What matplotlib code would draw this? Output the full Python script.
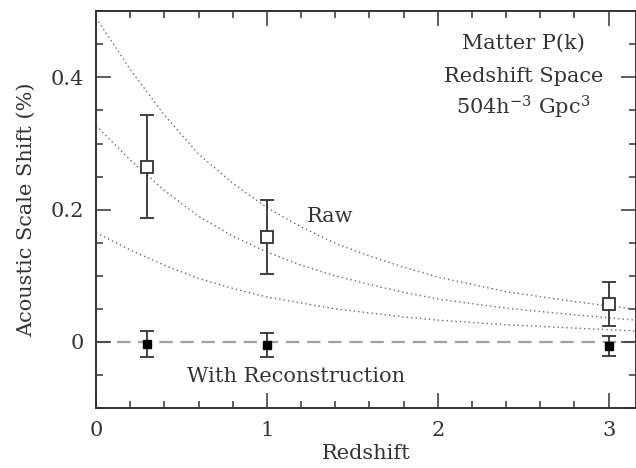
import numpy as np
import matplotlib
matplotlib.use("Agg")
import matplotlib.pyplot as plt
from matplotlib.ticker import MultipleLocator

# --- data ---
# measured acoustic scale shift (%) at each redshift
redshift = [0.3, 1.0, 3.0]
raw_shift = [0.265, 0.158, 0.057]
raw_err = [0.078, 0.056, 0.033]
recon_shift = [-0.003, -0.004, -0.006]
recon_err = [0.019, 0.018, 0.015]

# dotted reference curves
curve_z = [0.0, 0.2, 0.4, 0.6, 0.8, 1.0, 1.2, 1.4, 1.6, 1.8, 2.0, 2.4, 2.8, 3.2]
curve_high = [0.490, 0.412, 0.343, 0.284, 0.240, 0.203, 0.174, 0.149, 0.130,
              0.113, 0.098, 0.076, 0.061, 0.048]
curve_mid = [0.327, 0.275, 0.229, 0.190, 0.160, 0.136, 0.116, 0.100, 0.087,
             0.075, 0.065, 0.051, 0.041, 0.032]
curve_low = [0.165, 0.139, 0.116, 0.096, 0.081, 0.068, 0.059, 0.050, 0.044,
             0.038, 0.033, 0.026, 0.021, 0.016]

INK = "#333333"

plt.rcParams["font.family"] = ["DejaVu Serif"]
plt.rcParams["mathtext.fontset"] = "dejavuserif"
plt.rcParams["font.size"] = 15

fig = plt.figure(figsize=(6.36, 4.68), dpi=100)
ax = fig.add_axes([0.151, 0.128, 0.849, 0.848])

# reference curves
for c in (curve_high, curve_mid, curve_low):
    ax.plot(curve_z, c, color="#6a6a6a", lw=1.0, ls=(0, (1, 2.2)))

# zero line
ax.axhline(0, color="#a0a0a0", lw=1.6, ls=(0, (6, 3.5)), zorder=1)

# raw points: open squares
ax.errorbar(redshift, raw_shift, yerr=raw_err, fmt="s", ms=8, mfc="white",
            mec=INK, mew=1.3, ecolor=INK, elinewidth=1.3, capsize=5,
            capthick=1.3, zorder=3)
# reconstructed points: filled squares
ax.errorbar(redshift, recon_shift, yerr=recon_err, fmt="s", ms=6, mfc="black",
            mec="black", ecolor=INK, elinewidth=1.3, capsize=5,
            capthick=1.3, zorder=3)

ax.set_xlim(0, 3.16)
ax.set_ylim(-0.1, 0.5)
ax.xaxis.set_minor_locator(MultipleLocator(0.2))
ax.yaxis.set_minor_locator(MultipleLocator(0.05))
ax.set_xticks([0, 1, 2, 3])
ax.set_xticklabels(["0", "1", "2", "3"])
ax.set_yticks([0, 0.2, 0.4])
ax.set_yticklabels(["0", "0.2", "0.4"])
ax.tick_params(which="both", direction="in", top=True, right=True,
               color=INK, labelcolor=INK, width=1.1)
ax.tick_params(which="major", length=10.5, pad=9)
ax.tick_params(which="minor", length=5)
for s in ax.spines.values():
    s.set_color(INK)
    s.set_linewidth(1.4)

ax.set_xlabel("Redshift", color=INK, labelpad=3)
ax.set_ylabel("Acoustic Scale Shift (%)", color=INK, labelpad=10)

ax.text(2.50, 0.452, "Matter P(k)", ha="center", va="center", color=INK)
ax.text(2.50, 0.402, "Redshift Space", ha="center", va="center", color=INK)
ax.text(2.50, 0.355, r"504h$^{-3}$ Gpc$^{3}$", ha="center", va="center", color=INK)
ax.text(1.37, 0.19, "Raw", ha="center", va="center", color=INK)
ax.text(1.17, -0.052, "With Reconstruction", ha="center", va="center", color=INK)

fig.savefig("out.png", dpi=100)
